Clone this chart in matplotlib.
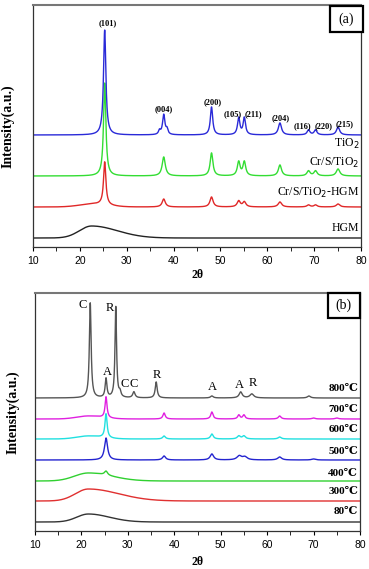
import matplotlib
matplotlib.use("Agg")
import matplotlib.pyplot as plt
from matplotlib.patches import Rectangle
from matplotlib.ticker import MultipleLocator
import numpy as np

# Panel (a): XRD patterns, baseline + peaks (position, height, fwhm) + humps
a_names = ["TiO$_2$", "Cr/S/TiO$_2$", "Cr/S/TiO$_2$-HGM", "HGM"]
a_colors = ["#2a2ad8", "#33dd33", "#e02828", "#222222"]
a_base = [112, 71, 40, 9]
a_peaks = [
    [(25.3, 105, 0.6), (37.0, 4, 0.5), (37.9, 20, 0.6), (38.6, 5, 0.5), (48.1, 28, 0.6),
     (53.9, 17, 0.6), (55.1, 17, 0.6), (62.7, 12, 0.8), (68.8, 5, 0.7), (70.3, 5, 0.7),
     (75.1, 8, 0.8)],
    [(25.3, 93, 0.6), (37.9, 19, 0.8), (48.1, 23, 0.7), (53.9, 14, 0.7), (55.1, 14, 0.7),
     (62.7, 11, 0.8), (68.8, 5, 0.8), (70.3, 5, 0.8), (75.1, 7, 0.9)],
    [(25.3, 43, 0.6), (37.9, 8, 0.8), (48.1, 10, 0.8), (53.9, 6, 0.8), (55.1, 5, 0.8),
     (62.7, 5, 0.9), (68.8, 2, 0.8), (70.3, 2, 0.8), (75.1, 3, 0.9)],
    [],
]
a_humps = [[], [], [(23.0, 3, 3.0, 3.0)], [(22.5, 12, 2.6, 5.5)]]
a_label_y = [103, 84, 54, 19]
hkl = ["(101)", "(004)", "(200)", "(105)", "(211)", "(204)", "(116)", "(220)", "(215)"]
hkl_x = [25.9, 37.9, 48.4, 52.7, 57.0, 62.9, 67.6, 72.1, 76.6]
hkl_y = [224, 138, 145, 133, 133, 129, 121, 121, 123]

# Panel (b): calcination temperatures
b_names = ["800℃", "700℃", "600℃", "500℃", "400℃", "300℃", "80℃"]
b_colors = ["#555555", "#e020e0", "#20e0e0", "#2424d0", "#30d030", "#e03030", "#333333"]
b_base = [133, 112, 92, 71, 50, 30, 9]
b_peaks = [
    [(21.9, 95, 0.45), (25.3, 19, 0.45), (27.4, 91, 0.4), (28.3, 5, 0.5), (31.3, 6, 0.6),
     (36.1, 16, 0.5), (48.1, 2, 0.7), (54.3, 6, 0.8), (56.7, 4, 1.0), (69.0, 2, 0.8)],
    [(25.3, 21, 0.5), (37.8, 6, 0.6), (48.1, 7, 0.6), (53.9, 4, 0.6), (55.0, 4, 0.6),
     (62.7, 3, 0.7), (70.0, 1, 0.8), (75.0, 1, 0.8)],
    [(25.3, 24, 0.55), (37.8, 3, 0.7), (48.1, 5, 0.7), (53.9, 3, 0.8), (55.0, 3, 0.8),
     (62.7, 2, 0.8)],
    [(25.3, 22, 0.8), (37.8, 4, 0.8), (48.1, 6, 0.9), (54.0, 4, 1.2), (55.2, 3, 1.2),
     (62.7, 3, 1.0), (70.0, 1, 1.0)],
    [(25.3, 4, 0.8)],
    [],
    [],
]
b_humps = [
    [], [(21.5, 3, 2.5, 3.0)], [(21.5, 3, 2.5, 3.0)], [], [(21.5, 8, 3.0, 5.0)],
    [(21.5, 12, 2.8, 6.5)], [(21.5, 8, 2.5, 4.5)],
]
b_label_y = [143, 121, 101, 80, 58, 39, 19]
phase = ["C", "A", "R", "C", "C", "R", "A", "A", "R"]
phase_x = [20.3, 25.5, 26.2, 29.4, 31.3, 36.3, 48.1, 54.0, 57.0]
phase_y = [226, 159, 223, 147, 147, 156, 144, 146, 148]

x = np.linspace(10, 80, 2100)
serif = ["Liberation Serif", "DejaVu Serif"]


def perfil(base, peaks, humps):
    y = np.full_like(x, float(base))
    for c, h, w in peaks:
        g = (w / 2) ** 2 / ((x - c) ** 2 + (w / 2) ** 2)
        y += h * g
    for c, h, wl, wr in humps:
        s = np.where(x < c, wl, wr)
        y += h * np.exp(-0.5 * ((x - c) / s) ** 2)
    return y


def preparar(ax, ymax, ylab_x, xpad):
    ax.set_xlim(10, 80)
    ax.set_ylim(0, ymax)
    ax.xaxis.set_major_locator(MultipleLocator(10))
    ax.xaxis.set_minor_locator(MultipleLocator(5))
    ax.tick_params(axis="x", which="both", direction="out", length=3, labelsize=7.5)
    ax.tick_params(axis="y", left=False, labelleft=False)
    for lbl in ax.get_xticklabels():
        lbl.set_family("Liberation Sans")
    for s in ax.spines.values():
        s.set_color("#333333")
        s.set_linewidth(0.9)
    ax.spines["top"].set_color("#777777")
    ax.spines["top"].set_linewidth(1.5)
    ax.set_xlabel("2θ", family=serif, fontweight="bold", fontsize=8.5, labelpad=xpad)
    ax.set_ylabel("Intensity(a.u.)", family=serif, fontweight="bold", fontsize=10)
    ax.yaxis.set_label_coords(ylab_x, 0.5)


def caja(ax, text, x0, y0, w, h):
    ax.add_patch(Rectangle((x0, y0), w, h, transform=ax.transAxes, fill=True,
                           facecolor="white", edgecolor="black", linewidth=1.6,
                           clip_on=False, zorder=5))
    ax.text(x0 + w / 2, y0 + h / 2, text, transform=ax.transAxes, ha="center",
            va="center", family=serif, fontsize=10, zorder=6)


fig = plt.figure(figsize=(3.69, 5.69), dpi=100)

# Panel (a)
ax1 = fig.add_axes([33 / 369, 1 - 247 / 569, 328 / 369, 242 / 569])
for i in range(len(a_names))[::-1]:
    ax1.plot(x, perfil(a_base[i], a_peaks[i], a_humps[i]), color=a_colors[i], lw=1.0)
    ax1.text(79.6, a_label_y[i], a_names[i], ha="right", va="center", family=serif,
             fontsize=8.5)
for t, xx, yy in zip(hkl, hkl_x, hkl_y):
    ax1.text(xx, yy, t, ha="center", va="center", family=serif, fontweight="bold",
             fontsize=6)
preparar(ax1, 242, -0.055, 2)
caja(ax1, "(a)", 0.905, 0.89, 0.1, 0.105)

# Panel (b)
ax2 = fig.add_axes([35 / 369, 1 - 531 / 569, 325 / 369, 238 / 569])
for i in range(len(b_names))[::-1]:
    ax2.plot(x, perfil(b_base[i], b_peaks[i], b_humps[i]), color=b_colors[i], lw=1.0)
    ax2.text(79.6, b_label_y[i], b_names[i], ha="right", va="center", family=serif,
             fontweight="bold", fontsize=8)
for t, xx, yy in zip(phase, phase_x, phase_y):
    ax2.text(xx, yy, t, ha="center", va="center", family=serif, fontsize=9)
preparar(ax2, 238, -0.049, 4)
caja(ax2, "(b)", 0.9, 0.895, 0.1, 0.105)

fig.savefig("out.png", dpi=100)
